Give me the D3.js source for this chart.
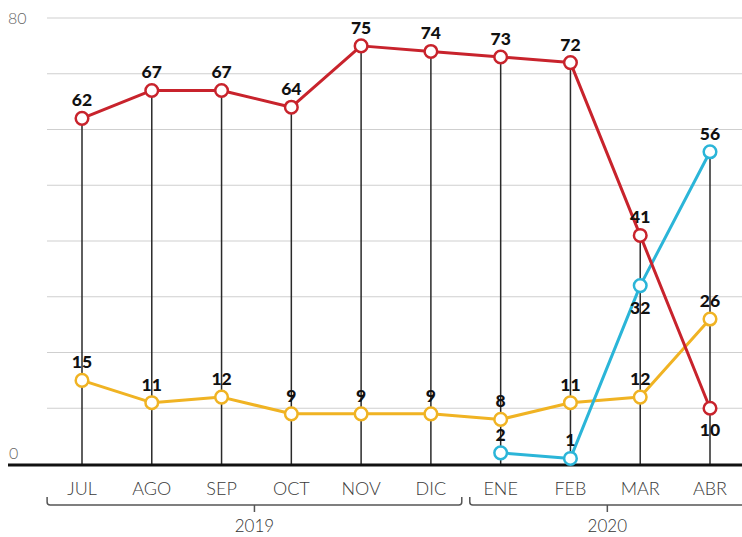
<!DOCTYPE html>
<html><head><meta charset="utf-8">
<script src="https://cdn.jsdelivr.net/npm/d3@7"></script>
<style>body{margin:0;background:#fff}svg{display:block}</style>
</head><body>
<svg id="c" width="742" height="537"></svg>
<script>
const months = ["JUL","AGO","SEP","OCT","NOV","DIC","ENE","FEB","MAR","ABR"];
const redVals = [62,67,67,64,75,74,73,72,41,10];
const yellowVals = [15,11,12,9,9,9,8,11,12,26];
const blueVals = [null,null,null,null,null,null,2,1,32,56];
const redLabelPos = ["a","a","a","a","a","a","a","a","a","b"];
const yellowLabelPos = ["a","a","a","a","a","a","a","a","a","a"];
const blueLabelPos = [null,null,null,null,null,null,"a","a","b","a"];
const gridTicks = [10,20,30,40,50,60,70,80];
const axisLabels = [0,80];
const years = [{label:"2019", from:"JUL", to:"DIC"},{label:"2020", from:"ENE", to:"ABR"}];

const svg = d3.select("#c");
const x = d3.scalePoint().domain(months).range([82,710]).padding(0);
const y = d3.scaleLinear().domain([0,80]).range([464,18]);

const colors = {red:"#c8232c", yellow:"#f0b323", blue:"#2bb5d8"};

// gridlines
svg.append("g").selectAll("line").data(gridTicks).join("line")
  .attr("x1",47).attr("x2",742).attr("y1",d=>y(d)).attr("y2",d=>y(d))
  .attr("stroke","#cfcfcf").attr("stroke-width",1);

// axis labels
svg.append("g").selectAll("text").data(axisLabels).join("text")
  .attr("x",d=>d===0?9:8).attr("y",d=>d===0?y(d)-5:y(d)+6)
  .attr("font-family","Lato").attr("font-weight",300).attr("font-size",16).attr("fill","#666")
  .text(d=>d);

// vertical drop lines
const tops = months.map((m,i)=>d3.max([redVals[i],yellowVals[i],blueVals[i]].filter(v=>v!=null)));
svg.append("g").selectAll("line").data(months).join("line")
  .attr("x1",d=>x(d)).attr("x2",d=>x(d)).attr("y1",(d,i)=>y(tops[i])).attr("y2",y(0))
  .attr("stroke","#2a2a2a").attr("stroke-width",1.5);

// baseline
svg.append("line").attr("x1",8).attr("x2",742).attr("y1",y(0)+1).attr("y2",y(0)+1)
  .attr("stroke","#111").attr("stroke-width",3);

// series
const series = [
  {vals:yellowVals, color:colors.yellow, pos:yellowLabelPos},
  {vals:blueVals, color:colors.blue, pos:blueLabelPos},
  {vals:redVals, color:colors.red, pos:redLabelPos}
];
const line = d3.line().defined(d=>d.v!=null).x(d=>x(d.m)).y(d=>y(d.v));
series.forEach(s=>{
  const pts = months.map((m,i)=>({m, v:s.vals[i], p:s.pos[i]})).filter(d=>d.v!=null);
  svg.append("path").datum(pts).attr("d",line).attr("fill","none")
    .attr("stroke",s.color).attr("stroke-width",3).attr("stroke-linejoin","round");
  svg.append("g").selectAll("circle").data(pts).join("circle")
    .attr("cx",d=>x(d.m)).attr("cy",d=>y(d.v)).attr("r",6.3)
    .attr("fill","#fff").attr("stroke",s.color).attr("stroke-width",2.5);
});
series.forEach(s=>{
  const pts = months.map((m,i)=>({m, v:s.vals[i], p:s.pos[i]})).filter(d=>d.v!=null);
  svg.append("g").selectAll("text").data(pts).join("text")
    .attr("x",d=>x(d.m)).attr("y",d=>d.p==="b"?y(d.v)+28:y(d.v)-12)
    .attr("text-anchor","middle").attr("font-family","Lato").attr("font-weight",900)
    .attr("font-size",17.5).attr("fill","#111").text(d=>d.v);
});

// month labels
svg.append("g").selectAll("text").data(months).join("text")
  .attr("x",d=>x(d)).attr("y",495).attr("text-anchor","middle")
  .attr("font-family","Lato").attr("font-weight",300).attr("font-size",18)
  .attr("fill","#3a3a3a").text(d=>d);

// year brackets
const step = x.step();
years.forEach((yr,k)=>{
  const x0 = x(yr.from) - step/2 + (k===0?-0:4);
  const x1 = x(yr.to) + step/2 - (k===0?4:0);
  const yb = 505;
  const path = d3.path();
  path.moveTo(x0, yb-8); path.lineTo(x0, yb-3); path.quadraticCurveTo(x0, yb, x0+3, yb);
  path.lineTo(x1-3, yb); path.quadraticCurveTo(x1, yb, x1, yb-3); path.lineTo(x1, yb-8);
  const xm = (x0+x1)/2;
  path.moveTo(xm, yb); path.lineTo(xm, yb+7);
  svg.append("path").attr("d",path.toString()).attr("fill","none")
    .attr("stroke","#555").attr("stroke-width",1.5);
  svg.append("text").attr("x",xm).attr("y",532).attr("text-anchor","middle")
    .attr("font-family","Lato").attr("font-weight",300).attr("font-size",17)
    .attr("fill","#333").text(yr.label);
});
</script>
</body></html>
